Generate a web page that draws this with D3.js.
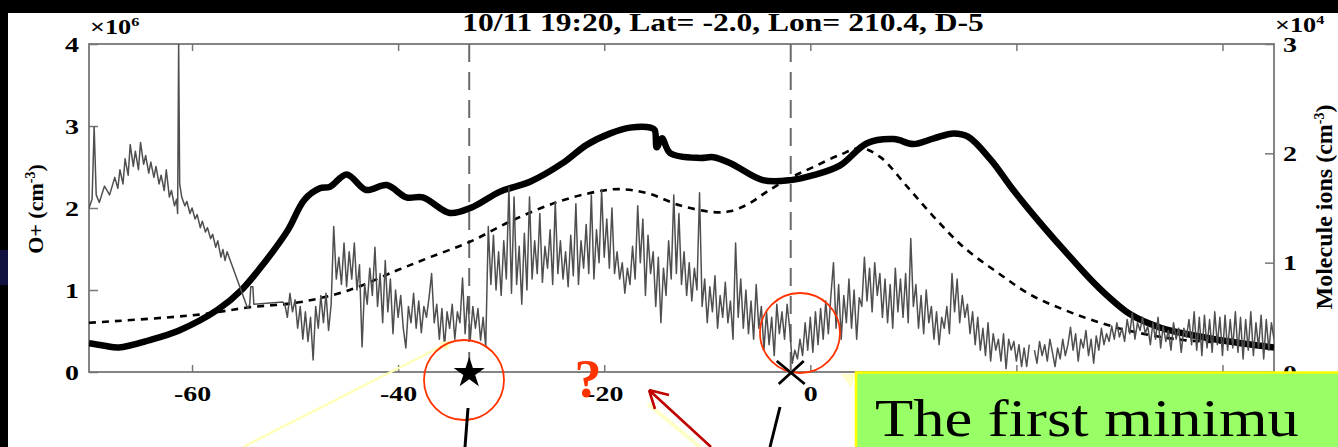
<!DOCTYPE html>
<html><head><meta charset="utf-8">
<script src="https://cdn.jsdelivr.net/npm/d3@7"></script>
<style>body{margin:0;background:#fff;overflow:hidden;} svg{display:block;}</style>
</head><body>
<svg id="c" width="1338" height="447"></svg>
<script>
// ---------------- DATA ----------------
const titleText = "10/11 19:20, Lat= -2.0, Lon= 210.4, D-5";
const xTicks = [-60, -40, -20, 0, 20, 40];
const leftTicks = [0, 1, 2, 3, 4];
const rightTicks = [0, 1, 2, 3];
const markerLines = [-33.1, -1.9];
const annotationText = "The first minimu";

// O+ density (x10^6 cm^-3), thick solid line
const oPlus = [[-70,0.35],[-68.5,0.32],[-67.1,0.30],[-64.1,0.39],[-61.2,0.51],[-57.5,0.76],[-55.2,1.0],[-53.0,1.33],[-50.7,1.73],[-49.1,2.10],[-47.6,2.24],[-46.6,2.26],[-45.0,2.41],[-43.1,2.22],[-41.1,2.28],[-39.2,2.13],[-37.6,2.13],[-35.0,1.94],[-32.8,2.01],[-30.1,2.20],[-27.2,2.32],[-24.0,2.55],[-21.7,2.77],[-19.4,2.91],[-17.5,2.98],[-15.5,2.98],[-15.1,2.95],[-14.9,2.74],[-14.4,2.85],[-13.6,2.67],[-10.7,2.61],[-9.4,2.62],[-7.8,2.55],[-4.6,2.34],[-1.9,2.34],[0.3,2.40],[2.9,2.52],[5.5,2.79],[8.1,2.84],[10.0,2.78],[12.0,2.85],[13.9,2.91],[15.3,2.87],[17.5,2.59],[19.7,2.22],[22.1,1.85],[24.6,1.49],[27.9,1.04],[31.1,0.70],[34.0,0.54],[37.9,0.43],[41.8,0.35],[45,0.30]];

// model curve (x10^6 cm^-3), dashed line
const modelCurve = [[-70,0.60],[-59.3,0.70],[-54.4,0.79],[-49.6,0.85],[-44.7,1.00],[-40.1,1.24],[-36.9,1.40],[-33.0,1.59],[-28.9,1.85],[-24.6,2.07],[-20.7,2.20],[-18.5,2.23],[-15.8,2.18],[-12.6,2.03],[-9.4,1.95],[-7.8,1.96],[-6.0,2.05],[-4.2,2.20],[-1.9,2.37],[0.3,2.50],[2.9,2.65],[4.9,2.73],[6.8,2.62],[9.4,2.26],[12.0,1.89],[14.9,1.52],[18.2,1.21],[21.4,0.94],[24.6,0.76],[27.9,0.61],[31.4,0.49],[36.2,0.39],[42.5,0.35]];

// molecule ions (x10^4 cm^-3), gray line — first part as [x, value]
const moleculeStart = [[-70.0,1.50],[-69.7,1.58],[-69.5,2.24],[-69.3,1.62],[-69.0,1.55],[-68.5,1.70],[-68.0,1.62],[-67.5,1.78],[-67.2,1.68],[-67.0,1.85],[-66.7,1.72],[-66.5,1.95],[-66.2,1.80],[-66.0,2.08],[-65.7,1.88],[-65.5,2.02],[-65.2,1.85],[-65.0,2.10],[-64.7,1.90],[-64.5,1.98],[-64.2,1.82],[-64.0,1.92],[-63.7,1.78],[-63.5,1.88],[-63.2,1.72],[-63.0,1.80],[-62.7,1.66],[-62.5,1.85],[-62.2,1.60],[-62.0,1.66],[-61.7,1.52],[-61.5,1.58],[-61.4,1.45],[-61.3,3.0],[-61.2,1.72],[-61.0,1.60],[-60.7,1.52],[-60.5,1.56],[-60.2,1.45],[-60.0,1.50],[-59.7,1.40],[-59.5,1.44],[-59.2,1.32],[-59.0,1.38],[-58.7,1.28],[-58.5,1.32],[-58.2,1.22],[-58.0,1.26],[-57.7,1.14],[-57.5,1.20],[-57.2,1.05],[-57.0,1.12],[-56.8,1.02],[-56.6,1.10],[-54.6,0.58],[-54.4,0.62],[-54.3,0.78],[-54.1,0.78],[-54.0,0.62],[-51.2,0.64]];

// molecule ions, noisy part, sampled every 0.25 starting at -51 (null = data gap)
const noisyStartX = -51;
const noisyStep = 0.25;
const moleculeNoisy = [
0.62,0.50,0.72,0.55,0.66,0.40,0.60,0.30,0.55,0.28,0.50,0.11,0.60,0.40,0.70,0.45,
0.72,0.38,0.62,1.33,0.85,1.05,0.80,1.18,0.78,1.10,0.85,1.18,0.75,0.98,0.23,0.80,
0.62,0.95,0.70,1.14,0.60,0.90,0.45,1.02,0.55,0.85,0.35,0.75,0.50,0.70,0.40,0.22,
0.60,0.45,0.72,0.40,0.65,0.36,0.60,0.50,0.68,0.90,0.45,0.62,0.30,0.58,0.23,0.55,
0.40,0.62,0.30,0.55,0.45,0.86,0.35,0.69,0.30,0.60,0.40,0.58,0.29,0.50,0.23,1.33,
0.80,1.25,0.75,1.10,0.70,1.20,0.85,1.69,0.72,1.60,0.80,1.15,0.62,1.27,0.75,1.60,
0.85,1.20,0.90,1.45,0.82,1.15,0.95,1.30,0.80,1.56,0.90,1.20,0.85,1.10,0.78,1.25,
0.88,1.54,0.80,1.20,0.95,1.35,0.90,1.62,0.85,1.30,1.00,1.67,1.05,1.40,0.95,1.50,
0.90,1.10,0.85,1.00,0.72,0.95,0.80,1.15,0.85,1.52,1.00,1.40,0.70,1.25,0.90,1.10,
0.60,1.05,0.45,0.95,0.70,1.20,0.85,1.62,0.90,1.45,0.80,1.10,0.70,1.00,0.65,0.95,
0.75,1.64,0.60,0.85,0.45,0.78,0.55,0.88,0.40,0.70,0.50,0.82,0.45,0.65,0.30,1.18,
0.50,0.85,0.40,0.75,0.35,0.65,0.30,0.80,0.40,0.60,0.20,0.55,0.25,0.50,0.15,0.62,
0.35,0.55,0.30,0.62,0.40,0.08,0.20,0.12,0.30,0.15,0.45,0.20,0.50,0.18,0.55,0.25,
0.58,0.30,0.65,0.35,0.70,1.00,0.40,0.80,0.30,0.70,0.45,0.85,0.40,0.75,0.30,0.68,
0.60,1.05,0.65,0.95,0.55,1.00,0.70,0.90,0.50,0.85,0.45,0.80,0.40,0.95,0.55,0.85,
0.50,0.90,0.45,1.22,0.60,0.80,0.40,0.70,0.35,0.75,0.45,0.60,0.30,0.55,0.25,0.50,
0.40,0.60,0.35,0.90,0.55,0.85,0.45,0.70,0.50,0.62,0.35,0.55,0.25,0.50,0.20,0.40,
0.15,0.45,0.10,0.35,0.20,0.30,0.10,0.35,0.03,0.30,0.20,0.28,0.10,0.25,0.05,0.22,
0.05,0.25,null,0.20,0.08,0.28,0.15,0.25,0.10,0.30,0.18,0.05,0.22,0.12,0.30,0.15,
0.25,0.41,0.20,0.35,0.10,0.30,0.22,0.38,0.15,0.30,0.08,0.33,0.20,0.40,0.25,0.35,
0.28,0.42,0.30,0.45,0.32,0.40,0.28,0.48,0.35,0.54,0.30,0.45,0.38,0.50,0.35,0.42,
0.25,0.45,0.30,0.50,0.22,0.42,0.28,0.38,0.20,0.45,0.30,0.40,0.18,0.40,0.32,0.48,
0.25,0.55,0.20,0.50,0.15,0.52,0.22,0.48,0.18,0.55,0.25,0.50,0.15,0.52,0.20,0.48,
0.22,0.55,0.18,0.50,0.12,0.48,0.20,0.55,0.15,0.45,0.22,0.52,0.12,0.48,0.20,0.45,0.30
];

// ---------------- CHART ----------------
const W = 1338, H = 447;
const plot = {left: 89, right: 1274, top: 44, bottom: 372};
const noteBox = {x: 856, y: 372.5};
const serif = "'Liberation Serif', 'Times New Roman', serif";
const stretch = 1.27; // the slide picture is widened horizontally

const svg = d3.select("#c");
const x = d3.scaleLinear().domain([-70, 45]).range([plot.left, plot.right]);
const yL = d3.scaleLinear().domain([0, 4]).range([plot.bottom, plot.top]);
const yR = d3.scaleLinear().domain([0, 3]).range([plot.bottom, plot.top]);

function widen(sel, factor) {
  sel.each(function () {
    const len = this.getComputedTextLength();
    if (len > 0) d3.select(this).attr("textLength", len * factor).attr("lengthAdjust", "spacingAndGlyphs");
  });
}

svg.append("rect").attr("width", W).attr("height", H).attr("fill", "#fff");

// slide frame
svg.append("rect").attr("x", 0).attr("y", 0).attr("width", W).attr("height", 13).attr("fill", "#000");
svg.append("rect").attr("x", 0).attr("y", 0).attr("width", 8).attr("height", H).attr("fill", "#000");
svg.append("rect").attr("x", 0).attr("y", 250).attr("width", 8).attr("height", 35).attr("fill", "#121242");

svg.append("defs").append("clipPath").attr("id", "clip")
  .append("rect").attr("x", plot.left).attr("y", plot.top)
  .attr("width", plot.right - plot.left).attr("height", plot.bottom - plot.top);

// title
svg.append("text").attr("x", 723).attr("y", 31).attr("text-anchor", "middle")
  .attr("font-family", serif).attr("font-weight", "bold").attr("font-size", 25)
  .text(titleText).call(widen, 1.26);

// axes
const tickFmt = d => String(d);
const bottomFmt = d => (x(d) > noteBox.x - 10 ? "" : String(d)); // labels under the note box are hidden
function styleAxis(g) {
  g.select(".domain").remove();
  g.selectAll(".tick line").attr("stroke", "#777").attr("stroke-width", 1.5);
  g.selectAll(".tick text").attr("font-family", serif).attr("font-weight", "bold")
    .attr("font-size", 22).attr("fill", "#000");
}
svg.append("g").attr("transform", `translate(0,${plot.bottom})`)
  .call(d3.axisBottom(x).tickValues(xTicks).tickFormat(bottomFmt).tickSizeInner(-7).tickSizeOuter(0).tickPadding(13))
  .call(styleAxis).call(g => widen(g.selectAll(".tick text"), stretch));
svg.append("g").attr("transform", `translate(0,${plot.top})`)
  .call(d3.axisTop(x).tickValues(xTicks).tickFormat("").tickSizeInner(-7).tickSizeOuter(0))
  .call(styleAxis);
svg.append("g").attr("transform", `translate(${plot.left},0)`)
  .call(d3.axisLeft(yL).tickValues(leftTicks).tickFormat(tickFmt).tickSizeInner(-9).tickSizeOuter(0).tickPadding(10))
  .call(styleAxis).call(g => widen(g.selectAll(".tick text"), stretch));
svg.append("g").attr("transform", `translate(${plot.right},0)`)
  .call(d3.axisRight(yR).tickValues(rightTicks).tickFormat(tickFmt).tickSizeInner(-9).tickSizeOuter(0).tickPadding(9))
  .call(styleAxis).call(g => widen(g.selectAll(".tick text"), stretch));

// box
svg.append("rect").attr("x", plot.left).attr("y", plot.top)
  .attr("width", plot.right - plot.left).attr("height", plot.bottom - plot.top)
  .attr("fill", "none").attr("stroke", "#777").attr("stroke-width", 1.8);

// exponent labels
function expo(xp, yp, exp) {
  const t = svg.append("text").attr("x", xp).attr("y", yp)
    .attr("font-family", serif).attr("font-weight", "bold").attr("font-size", 21);
  t.append("tspan").text("\u00d710");
  t.append("tspan").attr("font-size", 13).attr("dy", -8).text(exp);
  widen(t, 1.25);
}
expo(90, 34, "6");
expo(1275, 32, "4");

// axis titles
function vlabel(xp, yp, main, fs) {
  const t = svg.append("text").attr("transform", `translate(${xp},${yp}) rotate(-90)`)
    .attr("text-anchor", "middle").attr("font-family", serif).attr("font-weight", "bold").attr("font-size", fs);
  t.append("tspan").text(main + " (cm");
  t.append("tspan").attr("font-size", 14).attr("dy", -8).text("-3");
  t.append("tspan").attr("dy", 8).text(")");
}
vlabel(43, 209, "O+", 22);
vlabel(1332, 207, "Molecule ions", 24);

// vertical dashed markers
svg.append("g").selectAll("line").data(markerLines).join("line")
  .attr("x1", d => x(d)).attr("x2", d => x(d)).attr("y1", plot.top).attr("y2", plot.bottom)
  .attr("stroke", "#6a6a6a").attr("stroke-width", 2).attr("stroke-dasharray", "18,10");

const gData = svg.append("g").attr("clip-path", "url(#clip)");

// thick O+ line
gData.append("path").datum(oPlus)
  .attr("d", d3.line().x(d => x(d[0])).y(d => yL(d[1])).curve(d3.curveCatmullRom.alpha(0.5)))
  .attr("fill", "none").attr("stroke", "#000").attr("stroke-width", 6.5).attr("stroke-linejoin", "round");

// dashed model
gData.append("path").datum(modelCurve)
  .attr("d", d3.line().x(d => x(d[0])).y(d => yL(d[1])).curve(d3.curveCatmullRom.alpha(0.5)))
  .attr("fill", "none").attr("stroke", "#000").attr("stroke-width", 2.6).attr("stroke-dasharray", "7,6");

// molecule ions gray line
const molecule = moleculeStart.concat(moleculeNoisy.map((v, i) => [noisyStartX + i * noisyStep, v]));
gData.append("path").datum(molecule)
  .attr("d", d3.line().defined(d => d[1] !== null).x(d => x(d[0])).y(d => yR(d[1])))
  .attr("fill", "none").attr("stroke", "#4f4f4f").attr("stroke-width", 1.5).attr("stroke-linejoin", "round");

// ---------------- ANNOTATIONS ----------------
const ann = svg.append("g");
// yellow pointer lines
ann.append("line").attr("x1", 243).attr("y1", 447).attr("x2", 450).attr("y2", 342)
  .attr("stroke", "#ffffb8").attr("stroke-width", 2.5);
ann.append("path").attr("d", "M452,341 L440,342 L446,351 Z").attr("fill", "#ffffb8");
ann.append("line").attr("x1", 648).attr("y1", 404).attr("x2", 700).attr("y2", 447)
  .attr("stroke", "#ffffc8").attr("stroke-width", 4);
ann.append("path").attr("d", "M841,374 L856,374 L851,388 Z").attr("fill", "#ffffcc");

// red circles
ann.append("circle").attr("cx", 464).attr("cy", 380).attr("r", 40)
  .attr("fill", "none").attr("stroke", "#ff3300").attr("stroke-width", 1.8);
ann.append("circle").attr("cx", 800).attr("cy", 333).attr("r", 40)
  .attr("fill", "none").attr("stroke", "#ff3300").attr("stroke-width", 1.8);

// star at first marker
ann.append("path").attr("d", d3.symbol(d3.symbolStar, 300)())
  .attr("transform", `translate(${x(markerLines[0])},${yL(0) + 1})`).attr("fill", "#000");

// X at second marker
const cx2 = x(markerLines[1]), cy2 = yL(0) + 1;
ann.append("path").attr("d", `M${cx2-14},${cy2-12} L${cx2+14},${cy2+11} M${cx2+13},${cy2-12} L${cx2-12},${cy2+11}`)
  .attr("stroke", "#000").attr("stroke-width", 2.8);

// black pointer lines
ann.append("line").attr("x1", 468).attr("y1", 408).attr("x2", 465).attr("y2", 447).attr("stroke", "#000").attr("stroke-width", 3);
ann.append("line").attr("x1", 780).attr("y1", 407).attr("x2", 770).attr("y2", 447).attr("stroke", "#000").attr("stroke-width", 3);

// red question mark
ann.append("text").attr("x", 588).attr("y", 397).attr("text-anchor", "middle")
  .attr("font-family", serif).attr("font-weight", "bold").attr("font-size", 54).attr("fill", "#ff3300").text("?");

// red arrow
ann.append("path").attr("d", "M711,447 L649,390 M649,390 L669,395 M649,390 L655,409")
  .attr("fill", "none").attr("stroke", "#c00000").attr("stroke-width", 2.6);

// green note box
ann.append("rect").attr("x", noteBox.x).attr("y", noteBox.y).attr("width", 490).attr("height", 80)
  .attr("fill", "#99ff66").attr("stroke", "#ffff00").attr("stroke-width", 2.5);
ann.append("text").attr("x", 875).attr("y", 436)
  .attr("font-family", serif).attr("font-size", 53).attr("fill", "#000")
  .text(annotationText).call(widen, 1.18);
</script>
</body></html>
